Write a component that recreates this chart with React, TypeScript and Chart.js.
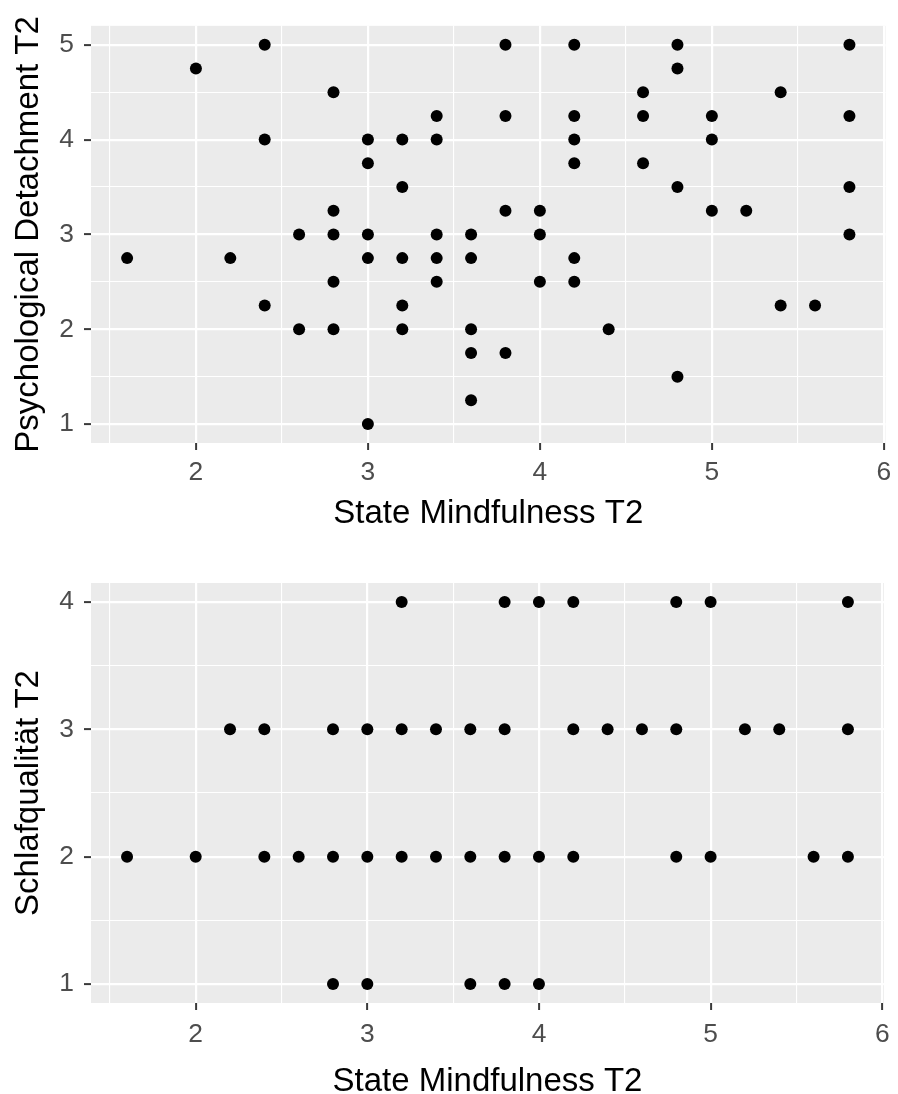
import React, { useEffect, useRef } from 'react';
import { Chart, registerables } from 'chart.js';

Chart.register(...registerables);

// ---- Data ----
const xTickLabels = [2, 3, 4, 5, 6];
const yTickLabelsTop = [1, 2, 3, 4, 5];
const yTickLabelsBottom = [1, 2, 3, 4];

const xAxisTitle = 'State Mindfulness T2';
const yAxisTitleTop = 'Psychological Detachment T2';
const yAxisTitleBottom = 'Schlafqualität T2';

const mindfulnessTop = [
  1.6, 2.0, 2.2, 2.4, 2.4, 2.4, 2.6, 2.6, 2.8, 2.8, 2.8, 2.8, 2.8,
  3.0, 3.0, 3.0, 3.0, 3.0, 3.2, 3.2, 3.2, 3.2, 3.2, 3.4, 3.4, 3.4, 3.4, 3.4,
  3.6, 3.6, 3.6, 3.6, 3.6, 3.8, 3.8, 3.8, 3.8, 4.0, 4.0, 4.0,
  4.2, 4.2, 4.2, 4.2, 4.2, 4.2, 4.4, 4.6, 4.6, 4.6, 4.8, 4.8, 4.8, 4.8,
  5.0, 5.0, 5.0, 5.2, 5.4, 5.4, 5.6, 5.8, 5.8, 5.8, 5.8,
];
const detachment = [
  2.75, 4.75, 2.75, 5, 4, 2.25, 3, 2, 4.5, 3.25, 3, 2.5, 2,
  4, 3.75, 3, 2.75, 1, 4, 3.5, 2.75, 2.25, 2, 4.25, 4, 3, 2.75, 2.5,
  3, 2.75, 2, 1.75, 1.25, 5, 4.25, 3.25, 1.75, 3.25, 3, 2.5,
  5, 4.25, 4, 3.75, 2.75, 2.5, 2, 4.5, 4.25, 3.75, 5, 4.75, 3.5, 1.5,
  4.25, 4, 3.25, 3.25, 4.5, 2.25, 2.25, 5, 4.25, 3.5, 3,
];

const mindfulnessBottom = [
  3.2, 3.8, 4.0, 4.2, 4.8, 5.0, 5.8,
  2.2, 2.4, 2.8, 3.0, 3.2, 3.4, 3.6, 3.8, 4.2, 4.4, 4.6, 4.8, 5.2, 5.4, 5.8,
  1.6, 2.0, 2.4, 2.6, 2.8, 3.0, 3.2, 3.4, 3.6, 3.8, 4.0, 4.2, 4.8, 5.0, 5.6, 5.8,
  2.8, 3.0, 3.6, 3.8, 4.0,
];
const sleepQuality = [
  4, 4, 4, 4, 4, 4, 4,
  3, 3, 3, 3, 3, 3, 3, 3, 3, 3, 3, 3, 3, 3, 3,
  2, 2, 2, 2, 2, 2, 2, 2, 2, 2, 2, 2, 2, 2, 2, 2,
  1, 1, 1, 1, 1,
];

const FONT = "'Liberation Sans', Arial, Helvetica, sans-serif";

function withMinor(major: number[], min: number, max: number): number[] {
  const out: number[] = [];
  const step = major[1] - major[0];
  const first = major[0] - step / 2;
  if (first >= min) out.push(first);
  major.forEach((v, i) => {
    out.push(v);
    const mid = v + step / 2;
    if (i < major.length - 1 || mid <= max) out.push(mid);
  });
  return out.filter((v) => v >= min && v <= max);
}

const panelBg = {
  id: 'panelBg',
  beforeDraw(chart: any) {
    const { ctx, chartArea } = chart;
    ctx.save();
    ctx.fillStyle = '#EBEBEB';
    ctx.fillRect(chartArea.left, chartArea.top, chartArea.right - chartArea.left, chartArea.bottom - chartArea.top);
    ctx.restore();
  },
};

type PanelProps = {
  xs: number[];
  ys: number[];
  yMin: number;
  yMax: number;
  yMajor: number[];
  yTitle: string;
  top: number;
  height: number;
  padTop: number;
  xAxisHeight: number;
  xTickPad: number;
  xTitlePad: number;
};

function Panel(p: PanelProps) {
  const ref = useRef<HTMLCanvasElement>(null);
  useEffect(() => {
    const xMin = 1.39;
    const xMax = 6.01;
    const xAll = withMinor(xTickLabels, xMin, xMax);
    const yAll = withMinor(p.yMajor, p.yMin, p.yMax);
    const isMajor = (v: number | undefined, major: number[]) =>
      v !== undefined && major.some((m) => Math.abs(m - v) < 1e-9);
    const data = p.xs.map((x, i) => ({ x, y: p.ys[i] }));

    const gridFor = (major: number[]) => ({
      display: true,
      drawOnChartArea: true,
      drawTicks: true,
      color: '#FFFFFF',
      lineWidth: (c: any) => (isMajor(c.tick?.value, major) ? 2.2 : 1.1),
      tickColor: (c: any) => (isMajor(c.tick?.value, major) ? '#3a3a3a' : 'rgba(0,0,0,0)'),
      tickLength: 7,
      tickWidth: 2,
    });

    const chart = new Chart(ref.current as HTMLCanvasElement, {
      type: 'scatter',
      data: {
        datasets: [
          {
            data,
            pointRadius: 6,
            pointBackgroundColor: '#000000',
            pointBorderWidth: 0,
            pointBorderColor: '#000000',
          },
        ],
      },
      options: {
        animation: false,
        responsive: false,
        events: [],
        layout: { padding: { top: p.padTop, right: 10, bottom: 0, left: 0 } },
        plugins: { legend: { display: false }, tooltip: { enabled: false } },
        scales: {
          x: {
            type: 'linear',
            min: xMin,
            max: xMax,
            afterBuildTicks: (axis: any) => {
              axis.ticks = xAll.map((v) => ({ value: v }));
            },
            afterFit: (axis: any) => {
              axis.height = p.xAxisHeight;
            },
            border: { display: false },
            grid: gridFor(xTickLabels),
            ticks: {
              autoSkip: false,
              maxRotation: 0,
              padding: p.xTickPad,
              color: '#4D4D4D',
              font: { family: FONT, size: 26.4 },
              callback: (v: any) => (isMajor(Number(v), xTickLabels) ? String(v) : ''),
            },
            title: {
              display: true,
              text: xAxisTitle,
              color: '#000000',
              font: { family: FONT, size: 33 },
              padding: { top: 0, bottom: p.xTitlePad },
            },
          },
          y: {
            type: 'linear',
            min: p.yMin,
            max: p.yMax,
            afterBuildTicks: (axis: any) => {
              axis.ticks = yAll.map((v) => ({ value: v }));
            },
            afterFit: (axis: any) => {
              axis.width = 91;
            },
            border: { display: false },
            grid: gridFor(p.yMajor),
            ticks: {
              autoSkip: false,
              padding: 10,
              color: '#4D4D4D',
              font: { family: FONT, size: 26.4 },
              callback: (v: any) => (isMajor(Number(v), p.yMajor) ? String(v) : ''),
            },
            title: {
              display: true,
              text: p.yTitle,
              color: '#000000',
              font: { family: FONT, size: 33 },
              padding: { top: 8.7, bottom: 0 },
            },
          },
        },
      },
      plugins: [panelBg],
    } as any);
    return () => chart.destroy();
  }, []);
  return (
    <canvas
      ref={ref}
      width={898}
      height={p.height}
      style={{ position: 'absolute', left: 0, top: p.top, width: 898, height: p.height }}
    />
  );
}

export default function App() {
  return (
    <div style={{ position: 'absolute', left: 0, top: 0, width: 898, height: 1094, background: '#FFFFFF', overflow: 'hidden' }}>
      <Panel
        xs={mindfulnessTop}
        ys={detachment}
        yMin={0.8}
        yMax={5.2}
        yMajor={yTickLabelsTop}
        yTitle={yAxisTitleTop}
        top={0}
        height={547}
        padTop={21}
        xAxisHeight={104}
        xTickPad={6.8}
        xTitlePad={13.6}
      />
      <Panel
        xs={mindfulnessBottom}
        ys={sleepQuality}
        yMin={0.85}
        yMax={4.15}
        yMajor={yTickLabelsBottom}
        yTitle={yAxisTitleBottom}
        top={547}
        height={547}
        padTop={36}
        xAxisHeight={91}
        xTickPad={8.4}
        xTitlePad={-8}
      />
    </div>
  );
}
